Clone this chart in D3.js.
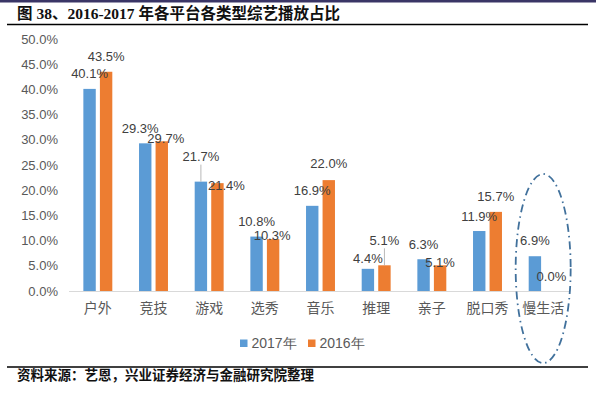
<!DOCTYPE html>
<html><head><meta charset="utf-8">
<script src="https://cdn.jsdelivr.net/npm/d3@7"></script>
<style>
html,body{margin:0;padding:0;background:#fff;}
svg{display:block;}
</style></head>
<body>
<svg id="c" width="596" height="394"></svg>
<script>
// ---- data ----
const categories = ["户外","竞技","游戏","选秀","音乐","推理","亲子","脱口秀","慢生活"];
const seriesNames = ["2017年","2016年"];
const values2017 = [40.1, 29.3, 21.7, 10.8, 16.9, 4.4, 6.3, 11.9, 6.9];
const values2016 = [43.5, 29.7, 21.4, 10.3, 22.0, 5.1, 5.1, 15.7, 0.0];
const yTicks = [0,5,10,15,20,25,30,35,40,45,50];
const title = "图 38、2016-2017 年各平台各类型综艺播放占比";
const source = "资料来源：艺恩，兴业证券经济与金融研究院整理";
// label nudges (dx, dy) relative to default position above each bar
const nudge2017 = [[0,0],[-5,0],[0,-10],[0,0],[0,0],[0,5],[0,0],[0,0],[0,-1]];
const nudge2016 = [[0,0],[4,12],[9,17],[-1,11],[0,-2],[0,-10],[0,12],[0,0],[0,0]];
const leader2017 = [false,false,true,false,false,false,false,false,false];
const leader2016 = [false,false,false,false,false,true,false,false,false];

const colors = ["#5b9bd5","#ed7d31"];
const numFont = "'Liberation Sans Narrow','Arial Narrow','Liberation Sans',Arial,sans-serif";
const cjkFont = "'Noto Sans CJK SC','Noto Sans',sans-serif";
const titleFont = "'Liberation Serif','Noto Sans CJK SC',serif";

const svg = d3.select("#c");

// top band
svg.append("rect").attr("x",0).attr("y",0).attr("width",596).attr("height",2.5).attr("fill","#3a3566");
// title
svg.append("text").attr("x",17).attr("y",19).attr("font-family",titleFont)
  .attr("font-size",15.5).attr("font-weight","bold").attr("fill","#111").text(title);
svg.append("line").attr("x1",7).attr("x2",588).attr("y1",24.5).attr("y2",24.5)
  .attr("stroke","#000").attr("stroke-width",1.5);

// scales
const y = d3.scaleLinear().domain([0,50]).range([291,39]);
const x0 = d3.scaleBand().domain(categories).range([70,571]).paddingInner(0.48).paddingOuter(0.24);
const x1 = d3.scaleBand().domain(seriesNames).range([0,x0.bandwidth()]).paddingInner(0.25);

// y axis
const yAxis = d3.axisLeft(y).tickValues(yTicks).tickFormat(d=>d.toFixed(1)+"%").tickSize(0).tickPadding(0);
const ya = svg.append("g").attr("transform","translate(58,0)").call(yAxis);
ya.select(".domain").remove();
ya.selectAll("text").attr("font-family",numFont).attr("font-size",13).attr("fill","#595959");

// x axis
const xAxis = d3.axisBottom(x0).tickSize(0).tickPadding(12);
const xa = svg.append("g").attr("transform","translate(0,291)").call(xAxis);
xa.select(".domain").attr("stroke","#d9d9d9").attr("stroke-width",1)
  .attr("d","M69,0.5H570");
xa.selectAll("text").attr("font-family",cjkFont).attr("font-size",14).attr("fill","#595959");

// bars
const series = [
  {name:seriesNames[0], vals:values2017, nudge:nudge2017, leader:leader2017, color:colors[0]},
  {name:seriesNames[1], vals:values2016, nudge:nudge2016, leader:leader2016, color:colors[1]}
];
series.forEach(s=>{
  const g = svg.append("g");
  g.selectAll("rect").data(categories).join("rect")
    .attr("x",c=>x0(c)+x1(s.name))
    .attr("y",(c,i)=>y(s.vals[i]))
    .attr("width",x1.bandwidth())
    .attr("height",(c,i)=>y(0)-y(s.vals[i]))
    .attr("fill",s.color);
});
// labels
series.forEach(s=>{
  const g = svg.append("g");
  categories.forEach((c,i)=>{
    const cx = x0(c)+x1(s.name)+x1.bandwidth()/2;
    const top = y(s.vals[i]);
    const lx = cx + s.nudge[i][0];
    const ly = top - 15 + s.nudge[i][1];
    if(s.leader[i]){
      g.append("line").attr("x1",cx).attr("x2",cx).attr("y1",ly+8).attr("y2",top)
        .attr("stroke","#a6a6a6").attr("stroke-width",0.8);
    }
    g.append("text").attr("x",lx).attr("y",ly+4.6).attr("text-anchor","middle")
      .attr("font-family",numFont).attr("font-size",13).attr("fill","#404040")
      .text(s.vals[i].toFixed(1)+"%");
  });
});

// dashed ellipse around last category
const lastC = categories[categories.length-1];
svg.append("ellipse").attr("cx",x0(lastC)+x0.bandwidth()/2).attr("cy",268.5)
  .attr("rx",27.5).attr("ry",94.5).attr("fill","none")
  .attr("stroke","#41719c").attr("stroke-width",1.8)
  .attr("stroke-dasharray","8,4,1.5,4");

// legend
const leg = svg.append("g").attr("transform","translate(240,343)");
const legX = [0,68];
seriesNames.forEach((n,i)=>{
  leg.append("rect").attr("x",legX[i]).attr("y",-3.5).attr("width",7.5).attr("height",7.5).attr("fill",colors[i]);
  leg.append("text").attr("x",legX[i]+11.5).attr("y",5).attr("font-family",numFont)
    .attr("font-size",14).attr("fill","#595959").text(n);
});

// bottom line + source
svg.append("line").attr("x1",7).attr("x2",588).attr("y1",367).attr("y2",367)
  .attr("stroke","#000").attr("stroke-width",1.5);
svg.append("text").attr("x",17).attr("y",380).attr("font-family",cjkFont)
  .attr("font-size",13.5).attr("font-weight","bold").attr("fill","#111").text(source);
</script>
</body></html>
